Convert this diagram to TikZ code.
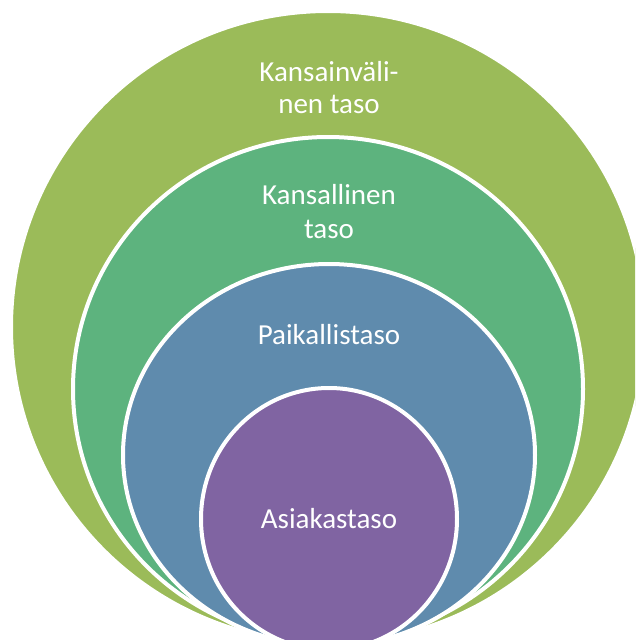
\documentclass[tikz,border=0pt]{standalone}
\usepackage{fontspec}
\setmainfont{Carlito}
\definecolor{cOuter}{HTML}{9BBB59}
\definecolor{cTeal}{HTML}{5DB37E}
\definecolor{cBlue}{HTML}{5F8BAD}
\definecolor{cPurple}{HTML}{8064A2}
\tikzset{
  ring/.style={draw=white, line width=4pt},
  lbl/.style={text=white, font=\fontsize{29}{34}\selectfont, inner sep=0pt, anchor=base}
}
\begin{document}
\begin{tikzpicture}[x=1pt, y=-1pt]
\useasboundingbox (0,0) rectangle (635,640);
\clip (0,0) rectangle (635,640);
\fill[white] (0,0) rectangle (635,640);
\filldraw[ring, fill=cOuter]  (328,327) ellipse [x radius=317, y radius=316];
\filldraw[ring, fill=cTeal]   (328,389) ellipse [x radius=255, y radius=252];
\filldraw[ring, fill=cBlue]   (329,455) ellipse [x radius=206, y radius=191];
\filldraw[ring, fill=cPurple] (329,519) ellipse [x radius=128, y radius=131];
\node[lbl] (k1a) at (329,81) {Kansainväli-};
\node[lbl] (k1b) at (329,113) {nen taso};
\node[lbl] (k2a) at (329,204) {Kansallinen};
\node[lbl] (k2b) at (329,238) {taso};
\node[lbl] (k3) at (329,344) {Paikallistaso};
\node[lbl] (k4) at (329,528) {Asiakastaso};
\end{tikzpicture}
\end{document}
